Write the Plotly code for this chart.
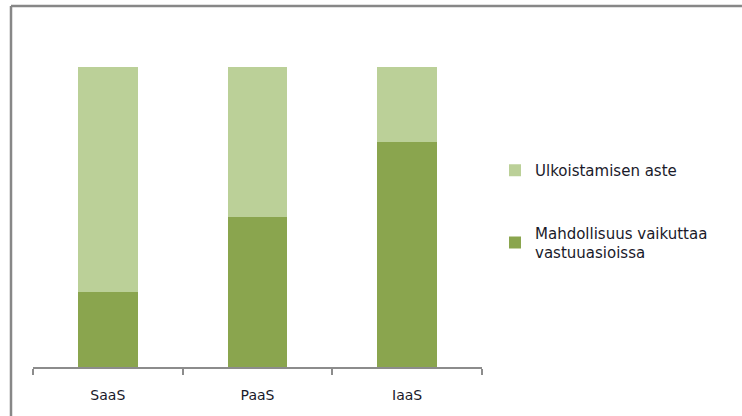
import plotly.graph_objects as go

categories = ["SaaS", "PaaS", "IaaS"]
vaikutus = [0.25, 0.50, 0.75]        # Mahdollisuus vaikuttaa vastuuasioissa
ulkoistus = [0.75, 0.50, 0.25]       # Ulkoistamisen aste
names = ["Mahdollisuus vaikuttaa<br>vastuuasioissa", "Ulkoistamisen aste"]
colors = ["#8AA54E", "#BBD098"]

fig = go.Figure()
fig.add_trace(go.Bar(x=categories, y=vaikutus, name=names[0], marker_color=colors[0],
                     marker_line_width=0, legendgroup="a", legendrank=2))
fig.add_trace(go.Bar(x=categories, y=ulkoistus, name=names[1], marker_color=colors[1],
                     marker_line_width=0, legendgroup="b", legendrank=1))

border = dict(color="#878787", width=2.5)
fig.update_layout(
    width=742, height=416,
    margin=dict(l=33, r=260, t=67, b=49),
    barmode="stack", bargap=0.6,
    paper_bgcolor="white", plot_bgcolor="white",
    font=dict(family="DejaVu Sans", size=14, color="#1a1a2a"),
    showlegend=True,
    legend=dict(x=1.029, y=0.71, xanchor="left", yanchor="top",
                traceorder="grouped", tracegroupgap=40,
                font=dict(size=15), itemwidth=30),
    xaxis=dict(showline=True, linecolor="#8c8c8c", linewidth=2,
               ticks="outside", tickson="boundaries", ticklen=6,
               tickcolor="#8c8c8c", tickwidth=2, showgrid=False,
               tickfont=dict(size=14), ticklabelstandoff=14),
    yaxis=dict(range=[0, 1], visible=False),
    shapes=[
        dict(type="line", xref="paper", yref="paper",
             x0=-0.049, x1=1.579, y0=1.203, y1=1.203, line=border),
        dict(type="line", xref="paper", yref="paper",
             x0=-0.049, x1=-0.049, y0=-0.163, y1=1.203, line=border),
    ],
)

fig.write_html("out.html", config={"displayModeBar": False})
